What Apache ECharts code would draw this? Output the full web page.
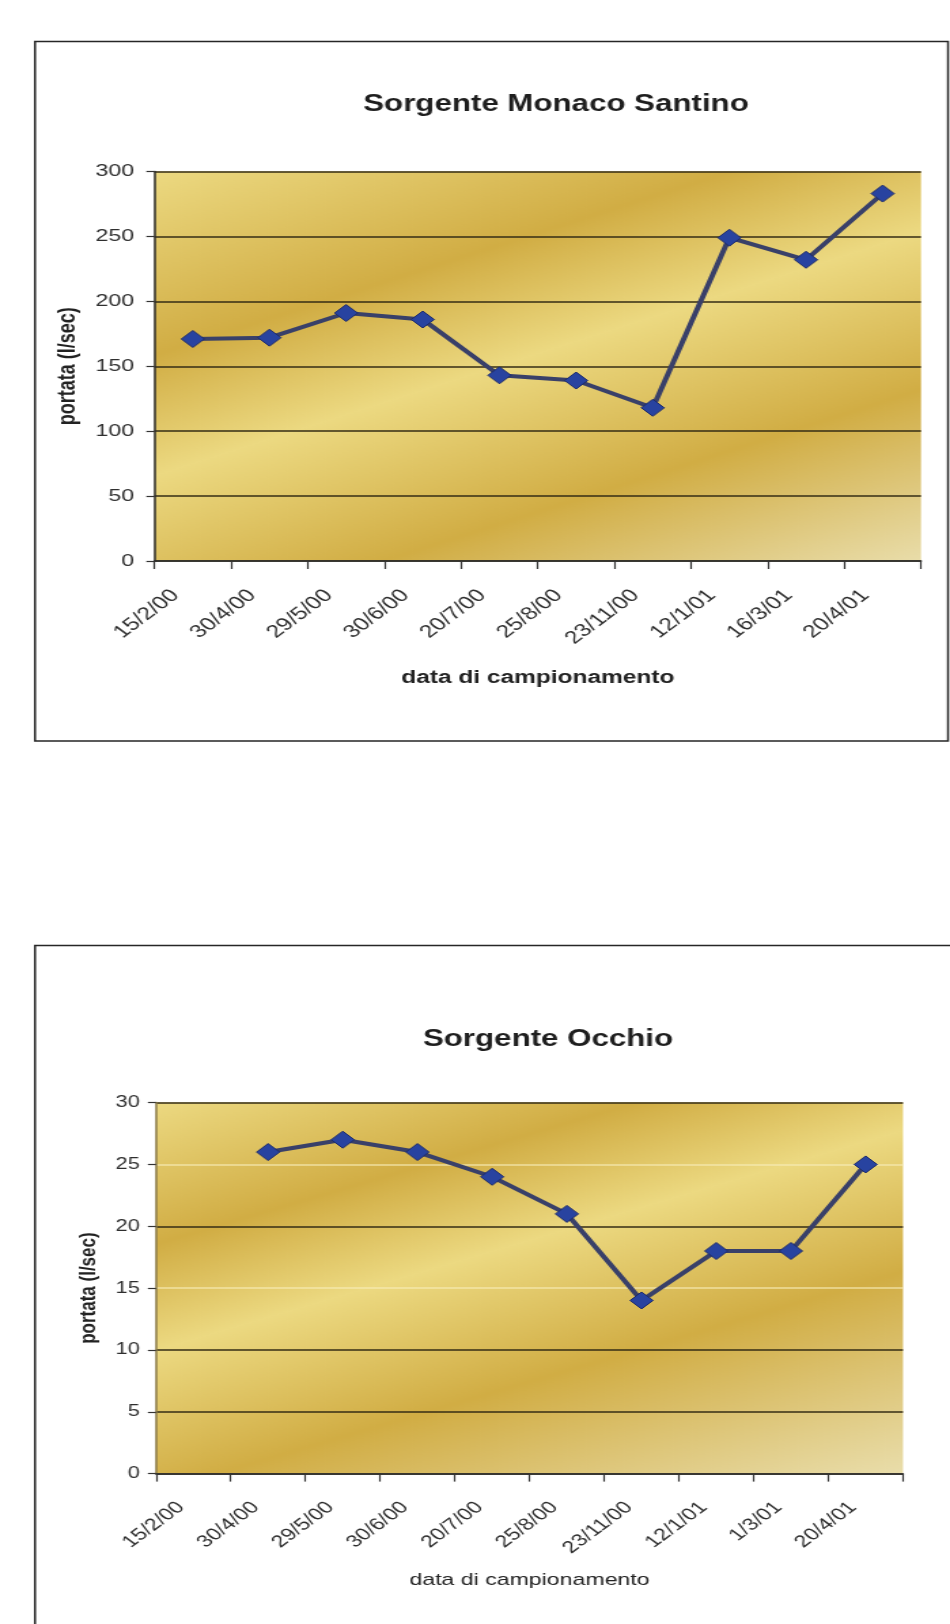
<!DOCTYPE html>
<html>
<head>
<meta charset="utf-8">
<title>Portata sorgenti</title>
<script src="https://cdn.jsdelivr.net/npm/echarts@6/dist/echarts.min.js"></script>
<style>
  html, body { margin: 0; padding: 0; background: #ffffff; width: 950px; height: 1624px; overflow: hidden; }
  /* the drawing is laid out on a narrower canvas and widened to the page width */
  #chart { width: 699px; height: 1624px; transform: scaleX(1.35908); transform-origin: 0 0; }
</style>
</head>
<body>
<div id="chart"></div>
<script>
// Sampling dates and measured flow (l/sec) for each spring
const datesMonaco = ['15/2/00', '30/4/00', '29/5/00', '30/6/00', '20/7/00', '25/8/00', '23/11/00', '12/1/01', '16/3/01', '20/4/01'];
const flowMonaco = [171, 172, 191, 186, 143, 139, 118, 249, 232, 283];
const yTicksMonaco = [0, 50, 100, 150, 200, 250, 300];

const datesOcchio = ['15/2/00', '30/4/00', '29/5/00', '30/6/00', '20/7/00', '25/8/00', '23/11/00', '12/1/01', '1/3/01', '20/4/01'];
const flowOcchio = [null, 26, 27, 26, 24, 21, 14, 18, 18, 25];
const yTicksOcchio = [0, 5, 10, 15, 20, 25, 30];

// page x (0..950) -> drawing x on the narrower canvas
const STRETCH = 950 / 699;
const sx = v => v / STRETCH;

const FONT = '"Liberation Sans", Arial, Helvetica, sans-serif';
const LIGHT = '#ECD981';
const DARK = '#D1AD44';
const PALE = '#E9DDAA';
const GRID_LINE = '#342c14';
const FAINT_LINE = 'rgba(248,238,185,0.75)';

function goldFill(x2, y2, stops) {
  return {
    type: 'linear', x: 0, y: 0, x2: x2, y2: y2,
    colorStops: stops.map(s => ({ offset: s[0], color: s[1] }))
  };
}

function tickRange(ticks) {
  return { min: ticks[0], max: ticks[ticks.length - 1], interval: ticks[1] - ticks[0] };
}

function categoryAxis(gridIndex, data, o) {
  return {
    type: 'category', gridIndex: gridIndex, data: data, boundaryGap: true,
    axisLine: { show: true, lineStyle: { color: '#2b2b2b', width: 1.5 } },
    axisTick: { show: true, length: 8, lineStyle: { color: '#333333', width: 1.2 } },
    axisLabel: {
      rotate: 45, interval: 0, margin: o.margin, padding: [0, o.pad, 0, 0],
      color: '#2e2e2e', fontFamily: FONT, fontSize: o.fontSize
    },
    splitLine: { show: false },
    name: 'data di campionamento', nameLocation: 'middle', nameGap: o.nameGap,
    nameTextStyle: { fontFamily: FONT, fontSize: o.nameSize, fontWeight: o.nameWeight, color: '#222222' }
  };
}

function valueAxis(gridIndex, ticks, o) {
  const r = tickRange(ticks);
  return {
    type: 'value', gridIndex: gridIndex, min: r.min, max: r.max, interval: r.interval,
    axisLine: { show: true, lineStyle: { color: o.axisColor, width: 1.5 } },
    axisTick: { show: true, length: 6, lineStyle: { color: '#333333', width: 1.2 } },
    axisLabel: { margin: o.margin, color: '#2e2e2e', fontFamily: FONT, fontSize: o.fontSize },
    splitLine: { show: true, lineStyle: { color: o.lineColors, width: 1.6 } },
    name: 'portata (l/sec)', nameLocation: 'middle', nameGap: o.nameGap, nameRotate: 90,
    nameTextStyle: { fontFamily: FONT, fontSize: o.nameSize, fontWeight: 'bold', color: '#222222' }
  };
}

function flowSeries(index, data) {
  return {
    type: 'line', xAxisIndex: index, yAxisIndex: index, data: data,
    symbol: 'diamond', symbolSize: 17, showAllSymbol: true,
    lineStyle: { color: '#394069', width: 4 },
    itemStyle: { color: '#2843a0', borderColor: '#1d2b6b', borderWidth: 1 },
    z: 5
  };
}

function titleText(text, cx, cy) {
  return {
    type: 'text', x: sx(cx), y: cy, z: 10,
    style: {
      text: text, fill: '#1e1e1e', font: 'bold 23px ' + FONT,
      textAlign: 'center', textVerticalAlign: 'middle', align: 'center', verticalAlign: 'middle'
    }
  };
}

function frame(x, y, w, h) {
  return {
    type: 'rect', z: 0,
    shape: { x: sx(x), y: y, width: sx(w), height: h },
    style: { fill: 'none', stroke: '#262626', lineWidth: 1.5 }
  };
}

const chart = echarts.init(document.getElementById('chart'));

chart.setOption({
  animation: false,
  backgroundColor: '#ffffff',
  graphic: [
    frame(35, 41.5, 913, 699.5),
    frame(35, 945.5, 940, 760),
    titleText('Sorgente Monaco Santino', 556, 104.5),
    titleText('Sorgente Occhio', 548, 1039.5)
  ],
  grid: [
    {
      left: sx(154.5), top: 171.5, width: sx(921) - sx(154.5), height: 389.5,
      show: true, borderWidth: 0,
      backgroundColor: goldFill(0.41, 1.37, [[0, LIGHT], [0.29, DARK], [0.48, LIGHT], [0.73, DARK], [1, PALE]])
    },
    {
      left: sx(156), top: 1102.6, width: sx(903) - sx(156), height: 371,
      show: true, borderWidth: 0,
      backgroundColor: goldFill(0.37, 1.37, [[0, LIGHT], [0.24, DARK], [0.42, LIGHT], [0.66, DARK], [1, PALE]])
    }
  ],
  xAxis: [
    categoryAxis(0, datesMonaco, { margin: 19, pad: 18, fontSize: 18, nameGap: 108, nameSize: 18, nameWeight: 'bold' }),
    categoryAxis(1, datesOcchio, { margin: 22, pad: 13, fontSize: 17, nameGap: 98, nameSize: 17, nameWeight: 'normal' })
  ],
  yAxis: [
    valueAxis(0, yTicksMonaco, {
      axisColor: '#2b2b2b', margin: 15, fontSize: 17, nameGap: 54, nameSize: 18,
      lineColors: [GRID_LINE]
    }),
    valueAxis(1, yTicksOcchio, {
      axisColor: '#8a7a48', margin: 12, fontSize: 16, nameGap: 32, nameSize: 17,
      lineColors: [GRID_LINE, GRID_LINE, GRID_LINE, FAINT_LINE, GRID_LINE, FAINT_LINE, GRID_LINE]
    })
  ],
  series: [
    flowSeries(0, flowMonaco),
    flowSeries(1, flowOcchio)
  ]
});
</script>
</body>
</html>
